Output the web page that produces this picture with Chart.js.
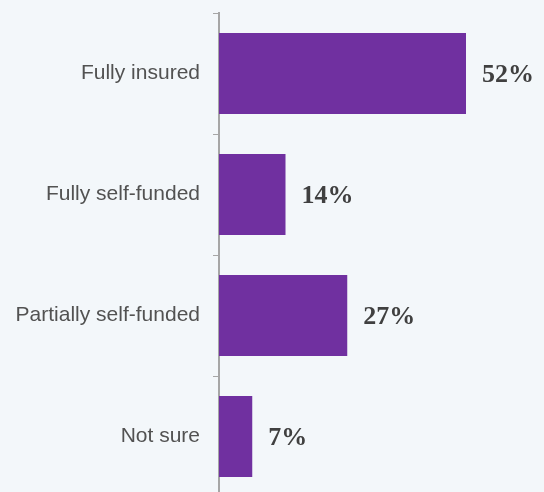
<!DOCTYPE html>
<html>
<head>
<meta charset="utf-8">
<script src="https://cdn.jsdelivr.net/npm/chart.js@4/dist/chart.umd.min.js"></script>
<style>
  html, body { margin: 0; padding: 0; background: #f3f7fa; overflow: hidden; }
  #wrap { width: 544px; height: 500px; }
</style>
</head>
<body>
<div id="wrap"><canvas id="myChart" width="544" height="500"></canvas></div>
<script>
// funding type answers and their share (%)
const categories = ['Fully insured', 'Fully self-funded', 'Partially self-funded', 'Not sure'];
const shares = [52, 14, 27, 7];

// writes "52%" etc just past the end of each bar
const valueLabels = {
    id: 'valueLabels',
    afterDatasetsDraw(chart) {
        const ctx = chart.ctx;
        const meta = chart.getDatasetMeta(0);
        ctx.save();
        ctx.font = 'bold 26px "Liberation Serif", "Times New Roman", serif';
        ctx.fillStyle = '#404040';
        ctx.textAlign = 'left';
        ctx.textBaseline = 'middle';
        meta.data.forEach(function(bar, i){
            ctx.fillText(shares[i] + '%', bar.x + 16, bar.y + 2);
        });
        ctx.restore();
    }
};

const ctx = document.getElementById('myChart').getContext('2d');
const myChart = new Chart(ctx, {
    type: 'bar',
    data: {
        labels: categories,
        datasets: [{
            data: shares,
            backgroundColor: '#7030a0',
            borderWidth: 0,
            barPercentage: 1,
            categoryPercentage: 0.67
        }]
    },
    options: {
        indexAxis: 'y',
        responsive: false,
        animation: false,
        layout: {
            padding: { top: 13, bottom: 3, left: 0, right: 2 }
        },
        plugins: {
            legend: { display: false },
            tooltip: { enabled: false }
        },
        scales: {
            x: {
                display: false,
                min: 0,
                max: 68
            },
            y: {
                afterFit: function(scale){
                    scale.width = 219;
                    // no extra room above/below for the label text
                    scale.paddingTop = 0;
                    scale.paddingBottom = 0;
                },
                grid: {
                    drawOnChartArea: false,
                    drawTicks: true,
                    tickLength: 6,
                    color: '#a6a6a6'
                },
                border: { color: '#a6a6a6', width: 2 },
                ticks: {
                    padding: 13,
                    color: '#525252',
                    font: { family: '"Liberation Sans", Arial, sans-serif', size: 21 }
                }
            }
        }
    },
    plugins: [valueLabels]
});
</script>
</body>
</html>
